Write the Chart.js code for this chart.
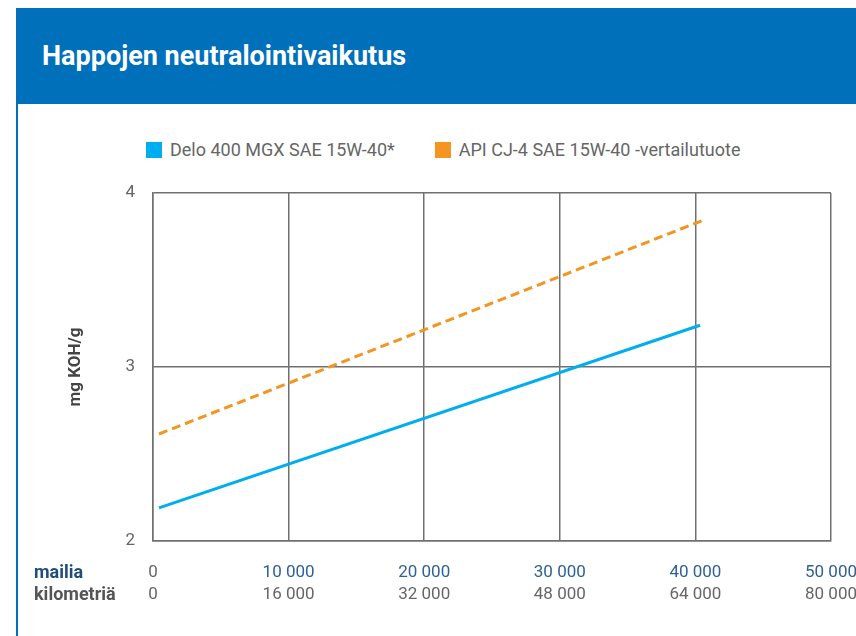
<!DOCTYPE html>
<html lang="fi">
<head>
<meta charset="utf-8">
<script src="https://cdn.jsdelivr.net/npm/chart.js@4.4.1/dist/chart.umd.min.js"></script>
<style>
  html, body { margin: 0; padding: 0; background: #fff; }
  body { width: 856px; height: 636px; position: relative; overflow: hidden; font-family: Roboto, "Noto Sans", sans-serif; }
  #otsikko {
    position: absolute; left: 16px; top: 8px; width: 840px; height: 96px;
    background: #0070ba; color: #fff; font-weight: bold; font-size: 27px;
    box-sizing: border-box; padding-left: 26px; line-height: 96px;
  }
  #reuna { position: absolute; left: 16px; top: 104px; width: 2px; height: 532px; background: #0070ba; }
  #selite { position: absolute; left: 146px; top: 139px; font-size: 18px; color: #666; white-space: nowrap; }
  #selite span.item { display: inline-block; margin-right: 40px; }
  #selite span.box { display: inline-block; width: 16px; height: 16px; vertical-align: -2px; margin-right: 8px; }
  #kehys { position: absolute; left: 18px; top: 104px; width: 838px; height: 532px; }
</style>
</head>
<body>
<div id="otsikko">Happojen neutralointivaikutus</div>
<div id="reuna"></div>
<div id="selite"></div>
<div id="kehys"><canvas id="grafico"></canvas></div>
<script>
// Dati
const deloMailia = [440, 40340];
const deloArvo = [2.19, 3.24];
const apiMailia = [440, 40780];
const apiArvo = [2.615, 3.85];
const sarjat = ['Delo 400 MGX SAE 15W-40*', 'API CJ-4 SAE 15W-40 -vertailutuote'];
const varit = ['#00aeef', '#f39520'];
const mailiaTicks = [0, 10000, 20000, 30000, 40000, 50000];
const kmTicks = [0, 16000, 32000, 48000, 64000, 80000];
const rivit = ['mailia', 'kilometriä'];

const fmt = v => String(v).replace(/\B(?=(\d{3})+(?!\d))/g, ' ');

// Selite (HTML)
document.getElementById('selite').innerHTML = sarjat.map((s, i) =>
  '<span class="item"><span class="box" style="background:' + varit[i] + '"></span>' + s + '</span>'
).join('');

const rivitPlugin = {
  id: 'rivit',
  afterDraw(chart) {
    const ctx = chart.ctx;
    const sx = chart.scales.x, sk = chart.scales.km;
    ctx.save();
    ctx.font = 'bold 18px Roboto';
    ctx.textBaseline = 'middle';
    ctx.textAlign = 'left';
    ctx.fillStyle = '#1f4e79';
    ctx.fillText(rivit[0], 16, sx.top + sx.options.ticks.padding + 10);
    ctx.fillStyle = '#555';
    ctx.fillText(rivit[1], 16, sk.top + sk.options.ticks.padding + 10);
    ctx.restore();
  }
};

// Niente padding automatico per le etichette
const noPad = s => { s.paddingLeft = 0; s.paddingRight = 0; s.paddingTop = 0; s.paddingBottom = 0; };

const grid = { color: '#707070', lineWidth: 1.5, drawTicks: false };

new Chart(document.getElementById('grafico'), {
  type: 'line',
  data: {
    datasets: [{
      label: sarjat[0],
      data: deloMailia.map((m, i) => ({ x: m, y: deloArvo[i] })),
      borderColor: varit[0],
      borderWidth: 3,
      pointRadius: 0,
      tension: 0
    }, {
      label: sarjat[1],
      data: apiMailia.map((m, i) => ({ x: m, y: apiArvo[i] })),
      borderColor: varit[1],
      borderWidth: 3,
      borderDash: [9, 5],
      pointRadius: 0,
      tension: 0
    }]
  },
  options: {
    responsive: true,
    maintainAspectRatio: false,
    animation: false,
    layout: { padding: { top: 89, right: 25, left: 0, bottom: 31 } },
    plugins: { legend: { display: false }, tooltip: { enabled: false } },
    scales: {
      x: {
        type: 'linear', position: 'bottom', min: 0, max: 50000,
        afterBuildTicks: s => { s.ticks = mailiaTicks.map(v => ({ value: v })); },
        grid: grid,
        border: { color: '#707070', width: 1.5 },
        ticks: {
          padding: 22,
          font: { size: 17, family: 'Roboto' },
          color: c => c.index === 0 ? '#666' : '#2f6196',
          callback: v => fmt(v),
          maxRotation: 0
        },
        afterFit: s => { s.height = 42; noPad(s); }
      },
      km: {
        type: 'linear', position: 'bottom', min: 0, max: 80000,
        afterBuildTicks: s => { s.ticks = kmTicks.map(v => ({ value: v })); },
        grid: { display: false, drawTicks: false },
        border: { display: false },
        ticks: {
          padding: 2,
          font: { size: 17, family: 'Roboto' },
          color: '#666',
          callback: v => fmt(v),
          maxRotation: 0
        },
        afterFit: s => { s.height = 22; noPad(s); }
      },
      y: {
        min: 2, max: 4,
        ticks: { stepSize: 1, padding: 18, font: { size: 17, family: 'Roboto' }, color: '#666' },
        grid: grid,
        border: { color: '#707070', width: 1.5 },
        title: {
          display: true, text: 'mg KOH/g', color: '#444',
          font: { size: 17, weight: 'bold', family: 'Roboto' },
          padding: { top: 48, bottom: 0 }
        },
        afterFit: s => { s.width = 135; noPad(s); }
      }
    }
  },
  plugins: [rivitPlugin]
});
</script>
</body>
</html>
